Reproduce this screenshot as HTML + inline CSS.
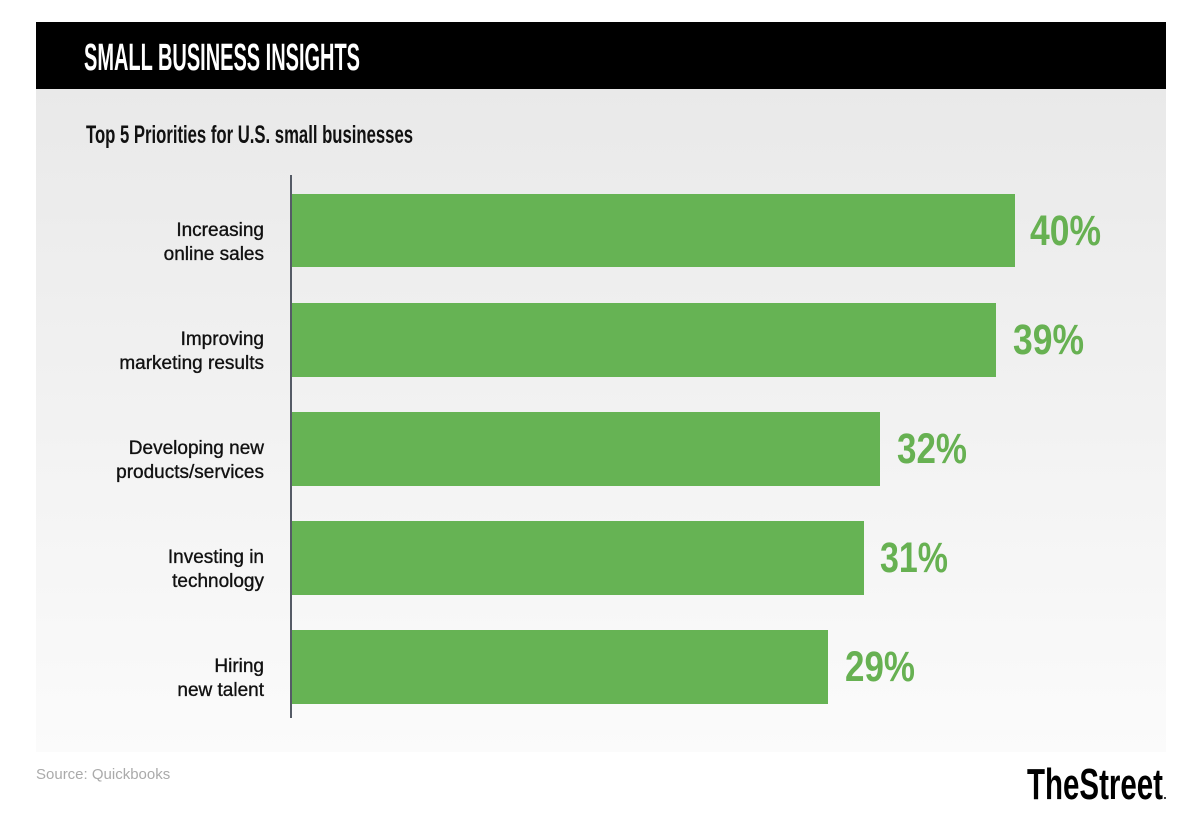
<!DOCTYPE html>
<html><head><style>
html,body{margin:0;padding:0;background:#fff;}
svg{display:block;}
</style></head><body>
<svg width="1200" height="816" viewBox="0 0 1200 816" xmlns="http://www.w3.org/2000/svg">
<defs>
<linearGradient id="bg" x1="0" y1="0" x2="0" y2="1">
<stop offset="0" stop-color="#e9e9e9"/>
<stop offset="1" stop-color="#fbfbfb"/>
</linearGradient>
</defs>
<rect x="36" y="88" width="1130" height="664" fill="url(#bg)"/>
<rect x="36" y="22" width="1130" height="67" fill="#000"/>
<text x="84" y="70" font-family="Liberation Sans Narrow, Liberation Sans, sans-serif" font-weight="bold" font-size="38" fill="#fff" textLength="276" lengthAdjust="spacingAndGlyphs">SMALL BUSINESS INSIGHTS</text>
<text x="86" y="143" font-family="Liberation Sans Narrow, Liberation Sans, sans-serif" font-weight="bold" font-size="25" fill="#111" textLength="327" lengthAdjust="spacingAndGlyphs">Top 5 Priorities for U.S. small businesses</text>
<line x1="291" y1="175" x2="291" y2="718" stroke="#555b66" stroke-width="2"/>
<g fill="#66b354">
<rect x="292" y="194" width="723" height="73"/>
<rect x="292" y="303" width="704" height="74"/>
<rect x="292" y="412" width="588" height="74"/>
<rect x="292" y="521" width="572" height="74"/>
<rect x="292" y="630" width="536" height="74"/>
</g>
<g font-family="Liberation Sans, sans-serif" font-size="19" fill="#111" text-anchor="end" stroke="#111" stroke-width="0.35">
<text x="264" y="236">Increasing</text><text x="264" y="260">online sales</text>
<text x="264" y="345">Improving</text><text x="264" y="369">marketing results</text>
<text x="264" y="454">Developing new</text><text x="264" y="478">products/services</text>
<text x="264" y="563">Investing in</text><text x="264" y="587">technology</text>
<text x="264" y="672">Hiring</text><text x="264" y="696">new talent</text>
</g>
<g font-family="Liberation Sans Narrow, Liberation Sans, sans-serif" font-weight="bold" font-size="43" fill="#67b152">
<text x="1030" y="245" textLength="71" lengthAdjust="spacingAndGlyphs">40%</text>
<text x="1013" y="354" textLength="71" lengthAdjust="spacingAndGlyphs">39%</text>
<text x="897" y="463" textLength="70" lengthAdjust="spacingAndGlyphs">32%</text>
<text x="880" y="572" textLength="68" lengthAdjust="spacingAndGlyphs">31%</text>
<text x="845" y="681" textLength="70" lengthAdjust="spacingAndGlyphs">29%</text>
</g>
<text x="36" y="779" font-family="Liberation Sans, sans-serif" font-size="15" fill="#aaa">Source: Quickbooks</text>
<text x="1027" y="799" font-family="Liberation Sans Narrow, Liberation Sans, sans-serif" font-weight="bold" font-size="44" fill="#000" textLength="136" lengthAdjust="spacingAndGlyphs">TheStreet</text>
<circle cx="1165" cy="798" r="1" fill="#000"/>
</svg>
</body></html>
